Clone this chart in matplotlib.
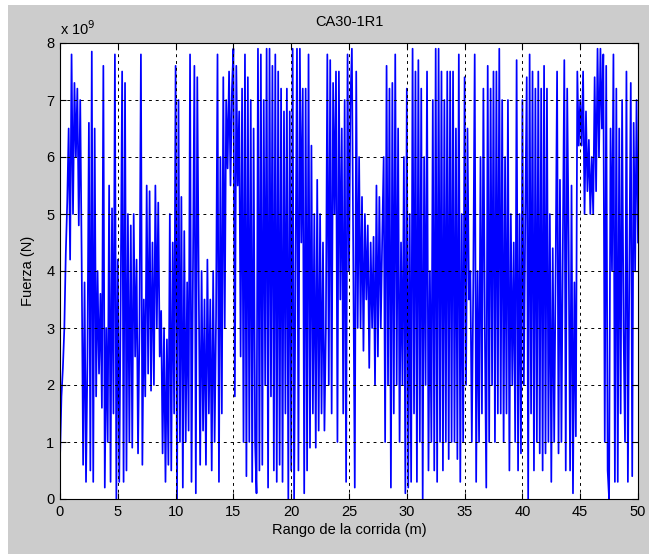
import numpy as np
import matplotlib
matplotlib.use("Agg")
import matplotlib.pyplot as plt
from matplotlib.patches import Rectangle

plt.rcParams['font.family'] = ['Liberation Sans', 'DejaVu Sans']

# fuerza, en unidades de 1e9 N, 8 muestras por metro (0 a 50 m)
fuerza = [
    0.7, 1.8, 2.3, 3.0, 4.3, 5.2, 6.5, 4.2,
    7.8, 5.0, 7.3, 6.0, 7.2, 4.8, 7.0, 4.2,
    0.6, 3.8, 0.3, 2.5, 6.6, 0.5, 7.85, 0.3,
    6.5, 1.8, 4.0, 2.2, 3.6, 1.6, 7.6, 0.2,
    3.0, 1.0, 5.5, 0.3, 5.1, 1.5, 7.8, 0.0,
    4.2, 0.3, 3.5, 7.5, 0.3, 7.3, 0.5, 5.0,
    1.0, 4.8, 0.9, 5.0, 2.5, 4.2, 0.8, 3.0,
    7.8, 0.6, 3.5, 1.8, 5.5, 2.2, 5.4, 1.9,
    4.5, 2.0, 5.5, 3.0, 5.2, 2.5, 3.3, 0.8,
    3.0, 0.3, 2.8, 0.6, 5.0, 0.5, 4.5, 1.5,
    7.6, 0.0, 7.0, 1.0, 5.3, 0.2, 4.7, 1.0,
    3.8, 1.2, 7.8, 0.3, 4.0, 7.6, 0.1, 7.4,
    3.8, 0.6, 4.0, 1.2, 3.5, 0.6, 4.2, 1.5,
    3.5, 0.5, 4.0, 1.0, 3.2, 7.8, 0.3, 6.0,
    1.5, 7.4, 3.0, 7.0, 5.8, 7.5, 5.5, 7.2,
    7.9, 1.8, 7.6, 5.5, 6.8, 2.5, 7.2, 1.0,
    7.8, 0.4, 7.4, 1.0, 7.0, 0.3, 6.5, 1.0,
    0.1, 7.9, 0.5, 7.8, 0.6, 7.0, 2.0, 7.9,
    0.2, 7.9, 1.8, 7.6, 0.5, 7.8, 0.3, 7.5,
    0.6, 7.2, 0.3, 6.8, 1.5, 7.2, 0.0, 6.8,
    0.5, 7.9, 0.0, 4.0, 7.9, 0.5, 7.9, 4.5,
    7.2, 0.1, 7.2, 0.5, 7.8, 0.9, 6.2, 1.5,
    5.0, 0.9, 5.6, 1.2, 5.0, 1.5, 4.5, 1.2,
    3.0, 7.8, 2.0, 7.7, 1.5, 7.3, 5.0, 7.5,
    1.0, 7.5, 3.5, 6.5, 1.5, 7.0, 0.3, 7.8,
    4.0, 7.0, 7.9, 4.0, 0.2, 7.5, 3.0, 6.0,
    3.0, 5.3, 2.6, 5.0, 3.5, 4.8, 2.3, 4.5,
    3.0, 4.6, 2.0, 5.5, 2.5, 5.3, 3.0, 4.6,
    6.0, 1.0, 7.6, 2.0, 7.2, 0.2, 7.3, 1.5,
    7.8, 2.0, 6.5, 1.0, 4.5, 2.0, 6.0, 0.1,
    7.2, 0.2, 5.0, 0.3, 7.9, 1.5, 7.5, 0.3,
    7.7, 1.0, 7.2, 0.0, 6.0, 2.0, 7.5, 0.5,
    4.0, 1.0, 7.0, 0.5, 7.9, 0.3, 7.9, 1.0,
    7.5, 0.5, 7.0, 1.0, 7.5, 0.7, 7.5, 1.0,
    7.5, 1.0, 6.5, 0.7, 7.8, 0.3, 5.0, 1.0,
    7.4, 2.0, 6.5, 3.5, 4.0, 1.0, 3.8, 7.8,
    0.3, 4.0, 1.0, 6.0, 1.5, 7.2, 3.0, 0.2,
    7.6, 1.0, 7.2, 2.0, 7.5, 1.0, 7.5, 1.5,
    7.9, 1.5, 7.0, 1.0, 6.0, 1.5, 7.0, 0.5,
    5.0, 2.0, 4.5, 1.0, 7.7, 0.5, 5.0, 0.8,
    7.0, 2.0, 5.0, 7.4, 0.0, 7.8, 1.5, 7.5,
    0.5, 7.2, 1.0, 7.5, 0.8, 7.2, 0.5, 7.6,
    0.8, 7.2, 1.0, 5.0, 0.3, 4.4, 1.0, 4.0,
    7.5, 0.8, 5.6, 1.0, 4.5, 7.7, 0.5, 7.2,
    4.5, 0.5, 5.5, 0.1, 3.8, 1.1, 7.5, 6.2,
    7.0, 6.2, 7.5, 5.0, 6.8, 5.4, 6.3, 5.0,
    6.0, 5.0, 7.4, 5.4, 7.9, 6.0, 7.9, 6.5,
    7.8, 1.0, 7.6, 0.5, 0.0, 6.5, 4.0, 7.8,
    0.3, 7.2, 0.3, 6.5, 1.5, 7.0, 3.0, 1.0,
    7.5, 0.3, 4.0, 7.3, 0.4, 6.6, 4.0, 7.0,
    4.5,
]
rango = np.linspace(0, 50, len(fuerza))
xticks = [0, 5, 10, 15, 20, 25, 30, 35, 40, 45, 50]
yticks = [0, 1, 2, 3, 4, 5, 6, 7, 8]

fig = plt.figure(figsize=(6.49, 5.54), dpi=100, facecolor='white')
fig.patches.append(Rectangle((8 / 649, 0), 1, 549 / 554, transform=fig.transFigure,
                             facecolor='#cccccc', edgecolor='none', zorder=-10))

ax = fig.add_axes([60 / 649, 55 / 554, 578 / 649, 456 / 554])
ax.plot(rango, np.array(fuerza) * 1e9, color=(0, 0, 1), linewidth=1.25)
ax.set_xlim(0, 50)
ax.set_ylim(0, 8e9)
ax.set_xticks(xticks)
ax.set_xticklabels([str(t) for t in xticks])
ax.set_yticks([t * 1e9 for t in yticks])
ax.set_yticklabels([str(t) for t in yticks])
ax.grid(True, color='black', linestyle=(0, (3, 4)), linewidth=0.7)
ax.tick_params(direction='in', top=True, right=True, length=4, labelsize=10.5, pad=4)
for s in ax.spines.values():
    s.set_linewidth(0.8)
ax.set_axisbelow(False)

ax.text(0, 1.012, r'x 10$^{9}$', transform=ax.transAxes, fontsize=10.5, ha='left', va='bottom')
ax.set_title('CA30-1R1', fontsize=10.5, pad=12)
ax.set_xlabel('Rango de la corrida (m)', fontsize=10.5, labelpad=3)
ax.set_ylabel('Fuerza (N)', fontsize=10.5, labelpad=8)

fig.savefig('out.png', dpi=100, facecolor=fig.get_facecolor())
